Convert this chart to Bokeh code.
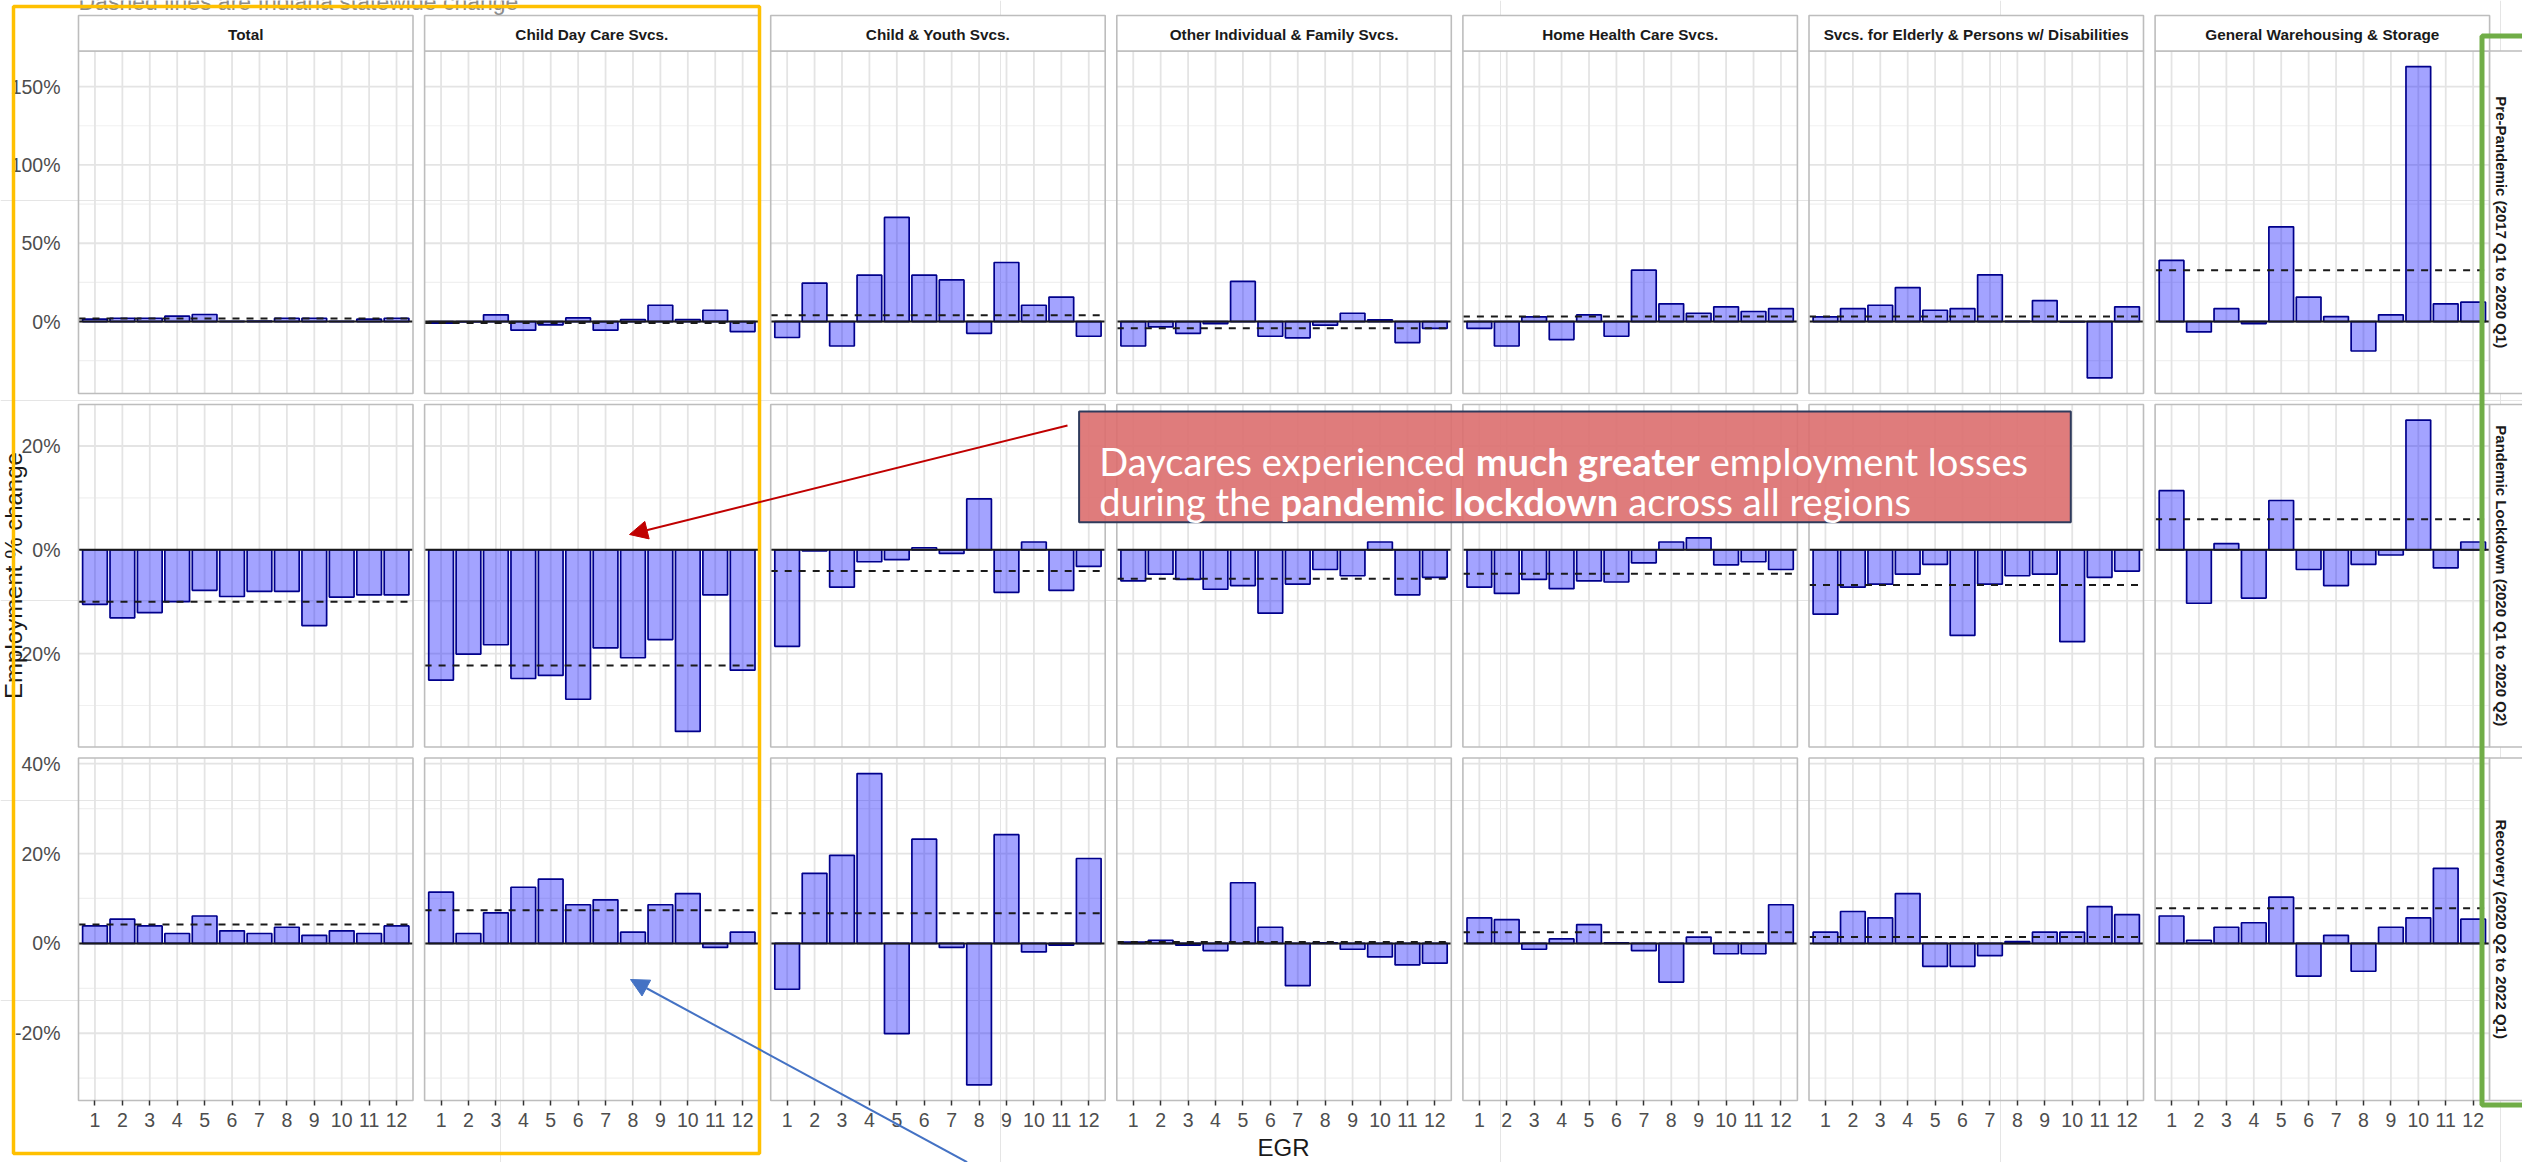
import subprocess
import numpy as np
from bokeh.plotting import figure
from bokeh.models import (Range1d, LinearAxis, FixedTicker, PrintfTickFormatter,
                          BoxAnnotation, Label, Arrow, NormalHead)
from bokeh.embed import file_html
from bokeh.resources import INLINE
from bokeh.core.properties import value

# ---------------- data ----------------
egr = list(range(1, 13))
egr_labels = [str(i) for i in egr]
industries = ["Total", "Child Day Care Svcs.", "Child & Youth Svcs.",
              "Other Individual & Family Svcs.", "Home Health Care Svcs.",
              "Svcs. for Elderly & Persons w/ Disabilities", "General Warehousing & Storage"]
periods = ["Pre-Pandemic (2017 Q1 to 2020 Q1)", "Pandemic Lockdown (2020 Q1 to 2020 Q2)",
           "Recovery (2020 Q2 to 2022 Q1)"]

pre_total = [1.5, 2.1, 2.1, 3.4, 4.5, 0.2, 0.3, 2.1, 2.1, 0.1, 1.5, 2.1]
pre_daycare = [-1.0, -0.3, 4.3, -5.5, -2.1, 2.3, -5.5, 1.3, 10.4, 1.3, 7.2, -6.4]
pre_youth = [-10.2, 24.5, -15.6, 29.6, 66.5, 29.6, 26.6, -7.5, 37.7, 10.4, 15.6, -9.4]
pre_family = [-15.6, -3.4, -7.5, -1.3, 25.6, -9.4, -10.4, -2.3, 5.3, 1.1, -13.4, -4.3]
pre_homehealth = [-4.3, -15.6, 3.0, -11.5, 4.3, -9.4, 32.8, 11.3, 5.3, 9.4, 6.4, 8.3]
pre_elderly = [3.0, 8.3, 10.4, 21.7, 7.2, 8.3, 29.8, 0.2, 13.4, -0.2, -36.0, 9.4]
pre_warehouse = [39.0, -6.6, 8.3, -1.3, 60.5, 15.6, 3.2, -18.8, 4.3, 162.8, 11.3, 12.4]

lock_total = [-10.5, -13.1, -12.1, -10.0, -7.8, -9.0, -8.0, -8.0, -14.6, -9.1, -8.7, -8.7]
lock_daycare = [-25.1, -20.1, -18.3, -24.8, -24.2, -28.8, -18.9, -20.8, -17.3, -35.0, -8.7, -23.2]
lock_youth = [-18.6, -0.2, -7.2, -2.3, -1.9, 0.4, -0.7, 9.8, -8.2, 1.5, -7.8, -3.2]
lock_family = [-6.0, -4.7, -5.7, -7.6, -6.9, -12.2, -6.6, -3.8, -5.0, 1.5, -8.7, -5.3]
lock_homehealth = [-7.2, -8.4, -5.7, -7.5, -6.0, -6.2, -2.5, 1.5, 2.3, -2.9, -2.3, -3.8]
lock_elderly = [-12.4, -7.2, -6.6, -4.7, -2.8, -16.5, -6.6, -5.0, -4.7, -17.7, -5.3, -4.1]
lock_warehouse = [11.4, -10.3, 1.2, -9.3, 9.5, -3.8, -6.9, -2.8, -1.0, 25.0, -3.5, 1.5]

rec_total = [3.9, 5.4, 3.9, 2.2, 6.1, 2.8, 2.2, 3.6, 1.8, 2.8, 2.2, 3.9]
rec_daycare = [11.4, 2.2, 6.8, 12.5, 14.3, 8.6, 9.7, 2.5, 8.6, 11.1, -0.9, 2.5]
rec_youth = [-10.2, 15.6, 19.6, 37.8, -20.1, 23.2, -0.9, -31.5, 24.2, -1.9, -0.4, 18.9]
rec_family = [0.3, 0.7, -0.4, -1.6, 13.5, 3.6, -9.4, 0.1, -1.3, -3.0, -4.8, -4.4]
rec_homehealth = [5.7, 5.3, -1.3, 1.0, 4.2, 0.1, -1.6, -8.6, 1.4, -2.3, -2.3, 8.6]
rec_elderly = [2.5, 7.1, 5.7, 11.1, -5.1, -5.1, -2.7, 0.4, 2.5, 2.5, 8.2, 6.4]
rec_warehouse = [6.1, 0.7, 3.6, 4.6, 10.3, -7.3, 1.8, -6.2, 3.6, 5.7, 16.7, 5.4]

# statewide change (dashed lines), one per industry
state_pre = [2.0, -0.9, 4.0, -4.3, 3.2, 3.2, 32.8]
state_lock = [-10.0, -22.3, -4.1, -5.6, -4.6, -6.8, 5.9]
state_rec = [4.2, 7.4, 6.7, 0.3, 2.5, 1.4, 7.8]

y_major = [[0, 50, 100, 150], [-20, 0, 20], [-20, 0, 20, 40]]
y_minor = [[-25, 25, 75, 125], [-30, -10, 10], [-30, -10, 10, 30]]

rows = [
    [pre_total, pre_daycare, pre_youth, pre_family, pre_homehealth, pre_elderly, pre_warehouse],
    [lock_total, lock_daycare, lock_youth, lock_family, lock_homehealth, lock_elderly, lock_warehouse],
    [rec_total, rec_daycare, rec_youth, rec_family, rec_homehealth, rec_elderly, rec_warehouse],
]
states = [state_pre, state_lock, state_rec]

# ---------------- layout (canvas pixels) ----------------
W, H = 2522, 1162
COL_L0 = 78
COL_PITCH = 346.1
PANEL_W = 334.5
ROW_T0 = 50.5
ROW_PITCH = 353.5
PANEL_H = 342.5
STRIP = 35.5
XLO, XHI = 0.4, 12.6

FONT = "Liberation Sans"
GRAY_TXT = "#4D4D4D"


def measure(txt, size, bold, family):
    try:
        from PIL import ImageFont
        pat = f"{family}:{'bold' if bold else 'regular'}"
        path = subprocess.run(["fc-match", "-f", "%{file}", pat], capture_output=True,
                              text=True, timeout=10).stdout.strip()
        font = ImageFont.truetype(path, 100)
        try:
            axes = font.get_variation_axes()
            vals = []
            for a in axes:
                nm = a.get("name", b"")
                nm = nm.decode(errors="ignore") if isinstance(nm, bytes) else str(nm)
                if "eight" in nm or "wght" in nm.lower():
                    vals.append(700 if bold else 400)
                else:
                    vals.append(a.get("default", a.get("minimum")))
            if vals:
                font.set_variation_by_axes(vals)
        except Exception:
            pass
        return font.getlength(txt) * size / 100
    except Exception:
        return len(txt) * size * (0.56 if bold else 0.5)


p = figure(width=W, height=H, x_range=Range1d(0, W), y_range=Range1d(H, 0),
           output_backend="svg", toolbar_location=None,
           x_axis_location=None, y_axis_location=None,
           min_border=0, min_border_left=0, min_border_right=0,
           min_border_top=0, min_border_bottom=0,
           outline_line_color=None, background_fill_color="white")

# y ranges per row (data range expanded by 5%)
yl = []
for r in range(3):
    allv = [v for ser in rows[r] for v in ser] + states[r] + [0]
    lo, hi = min(allv), max(allv)
    pad = 0.05 * (hi - lo)
    yl.append((lo - pad, hi + pad))

xr = {}
for c in range(7):
    L = COL_L0 + c * COL_PITCH
    R = L + PANEL_W
    s = (XHI - XLO) / (R - L)
    xr[f"c{c}"] = Range1d(XLO - L * s, XHI + (W - R) * s)
yr = {}
for r in range(3):
    T = ROW_T0 + r * ROW_PITCH
    B = T + PANEL_H
    ymin, ymax = yl[r]
    s = (ymax - ymin) / (B - T)
    yr[f"r{r}"] = Range1d(ymin - (H - B) * s, ymax + T * s)
p.extra_x_ranges = xr
p.extra_y_ranges = yr

# panels
for r in range(3):
    ymin, ymax = yl[r]
    for c in range(7):
        kw = dict(x_range_name=f"c{c}", y_range_name=f"r{r}")
        mn = [v for v in y_minor[r] if ymin <= v <= ymax]
        p.segment(x0=[XLO] * len(mn), x1=[XHI] * len(mn), y0=mn, y1=mn,
                  line_color="#F0F0F0", line_width=1.2, **kw)
        mj = [v for v in y_major[r] if ymin <= v <= ymax]
        p.segment(x0=[XLO] * len(mj), x1=[XHI] * len(mj), y0=mj, y1=mj,
                  line_color="#E4E4E4", line_width=1.8, **kw)
        p.segment(x0=egr, x1=egr, y0=[ymin] * 12, y1=[ymax] * 12,
                  line_color="#E4E4E4", line_width=1.8, **kw)
        p.vbar(x=egr, top=rows[r][c], bottom=0, width=0.9,
               fill_color="blue", fill_alpha=0.36, line_color="#00008B", line_width=1.7, **kw)
        p.segment(x0=[XLO], x1=[XHI], y0=[0], y1=[0], line_color="#1A1A1A", line_width=2, **kw)
        p.segment(x0=[XLO], x1=[XHI], y0=[states[r][c]], y1=[states[r][c]],
                  line_color="#1A1A1A", line_width=2, line_dash="7 7", **kw)

# panel borders
lefts, rights, tops, bottoms = [], [], [], []
for r in range(3):
    for c in range(7):
        L = COL_L0 + c * COL_PITCH
        T = ROW_T0 + r * ROW_PITCH
        lefts.append(L); rights.append(L + PANEL_W); tops.append(T); bottoms.append(T + PANEL_H)
p.quad(left=lefts, right=rights, top=tops, bottom=bottoms, fill_color=None,
       line_color="#BDBDBD", line_width=1.6)

# top strips
sl = [COL_L0 + c * COL_PITCH for c in range(7)]
p.quad(left=sl, right=[v + PANEL_W for v in sl], top=[ROW_T0 - STRIP] * 7, bottom=[ROW_T0] * 7,
       fill_color="white", line_color="#BDBDBD", line_width=1.6)
p.text(x=[v + PANEL_W / 2 for v in sl], y=[ROW_T0 - STRIP / 2 + 1] * 7, text=industries,
       text_font=value(FONT), text_font_size="15.3px", text_font_style="bold",
       text_color="#1A1A1A", text_align="center", text_baseline="middle")

# right strips
RS = COL_L0 + 6 * COL_PITCH + PANEL_W
rt = [ROW_T0 + r * ROW_PITCH for r in range(3)]
p.quad(left=[RS] * 3, right=[RS + STRIP] * 3, top=rt, bottom=[v + PANEL_H for v in rt],
       fill_color="white", line_color="#BDBDBD", line_width=1.6)
p.text(x=[RS + 12] * 3, y=[v + PANEL_H / 2 for v in rt], text=periods, angle=-np.pi / 2,
       text_font=value(FONT), text_font_size="15px", text_font_style="bold",
       text_color="#1A1A1A", text_align="center", text_baseline="middle")

# axes
for r in range(3):
    ax = LinearAxis(y_range_name=f"r{r}", fixed_location=COL_L0,
                    ticker=FixedTicker(ticks=y_major[r]),
                    formatter=PrintfTickFormatter(format="%d%%"),
                    bounds=yl[r], axis_line_color=None,
                    major_tick_line_color=None, minor_tick_line_color=None,
                    major_label_text_font=FONT, major_label_text_font_size="19.5px",
                    major_label_text_color=GRAY_TXT, major_label_standoff=12)
    p.add_layout(ax, "left")
XB = ROW_T0 + 2 * ROW_PITCH + PANEL_H
for c in range(7):
    ax = LinearAxis(x_range_name=f"c{c}", fixed_location=XB,
                    ticker=FixedTicker(ticks=egr),
                    major_label_overrides={i: egr_labels[i - 1] for i in egr},
                    bounds=(XLO, XHI), axis_line_color=None,
                    major_tick_in=0, major_tick_out=5, major_tick_line_color="#333333",
                    major_tick_line_width=1.5, minor_tick_line_color=None,
                    major_label_text_font=FONT, major_label_text_font_size="19.5px",
                    major_label_text_color=GRAY_TXT, major_label_standoff=7)
    p.add_layout(ax, "below")

# titles
p.add_layout(Label(x=1283, y=1147, text="EGR", text_font=FONT, text_font_size="24px",
                   text_color="#1A1A1A", text_align="center", text_baseline="alphabetic"))
p.add_layout(Label(x=13, y=575, text="Employment % change", angle=np.pi / 2, text_font=FONT,
                   text_font_size="24px", text_color="#1A1A1A", text_align="center",
                   text_baseline="alphabetic"))
p.add_layout(Label(x=78, y=1, text="Dashed lines are Indiana statewide change", text_font=FONT,
                   text_font_size="23px", text_color="#8C8C8C", text_align="left",
                   text_baseline="alphabetic"))

# highlight frames
p.add_layout(BoxAnnotation(left=13, right=759, top=6, bottom=1153, fill_alpha=0,
                           line_color="#FFC000", line_width=3.5, line_alpha=1))
p.add_layout(BoxAnnotation(left=2481.5, right=2560, top=35.5, bottom=1104.5, fill_alpha=0,
                           line_color="#70AD47", line_width=5, line_alpha=1))

# callout
p.add_layout(BoxAnnotation(left=1078.6, right=2070.3, top=411, bottom=521.7,
                           fill_color="#DC6E6E", fill_alpha=0.9,
                           line_color="#2F3B5C", line_width=2, line_alpha=1))
CF = "Lato"
line1 = [("Daycares experienced ", False), ("much greater", True), (" employment losses", False)]
line2 = [("during the ", False), ("pandemic lockdown", True), (" across all regions", False)]
w30 = sum(measure(t, 30, b, CF) for t, b in line1)
fs = 30 * 929 / w30
for pieces, yb in ((line1, 460), (line2, 500)):
    x = 1098.7
    for t, b in pieces:
        lead = measure(" ", fs, b, CF) if t.startswith(" ") else 0
        p.add_layout(Label(x=x + lead, y=yb, text=t.strip(), text_font=CF,
                           text_font_size=f"{fs:.1f}px",
                           text_font_style="bold" if b else "normal", text_color="white",
                           text_align="left", text_baseline="alphabetic"))
        x += measure(t, fs, b, CF)

p.add_layout(Arrow(end=NormalHead(size=18, fill_color="#C00000", line_color="#C00000"),
                   x_start=1067, y_start=425, x_end=629, y_end=534,
                   line_color="#C00000", line_width=2))
p.add_layout(Arrow(end=NormalHead(size=18, fill_color="#4472C4", line_color="#4472C4"),
                   x_start=966.6, y_start=1161.7, x_end=630, y_end=979,
                   line_color="#4472C4", line_width=2))

open("out.html", "w").write(file_html(p, INLINE))
